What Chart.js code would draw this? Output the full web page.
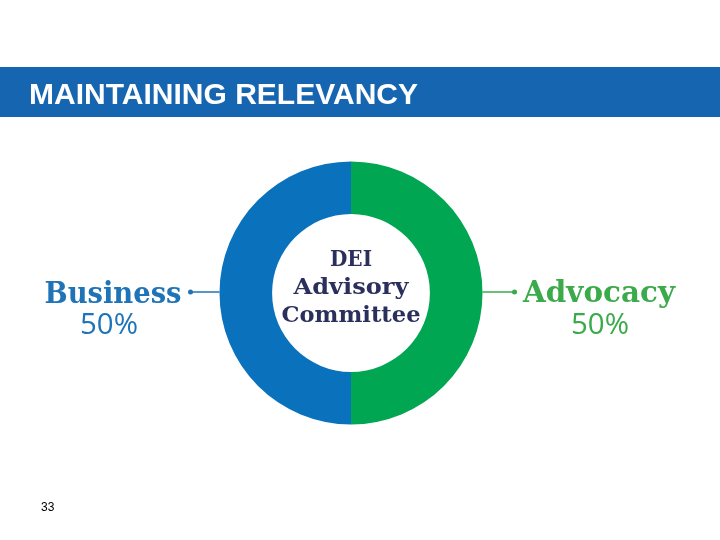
<!DOCTYPE html>
<html>
<head>
<meta charset="utf-8">
<script src="https://cdn.jsdelivr.net/npm/chart.js@4/dist/chart.umd.min.js"></script>
<style>
html,body{margin:0;padding:0;background:#fff;}
#wrap{position:relative;width:720px;height:540px;}
</style>
</head>
<body>
<div id="wrap"><canvas id="c" width="720" height="540"></canvas></div>
<script>
const title = 'MAINTAINING RELEVANCY';
const categories = ['Advocacy', 'Business'];
const values = [50, 50];
const centerLines = ['DEI', 'Advisory', 'Committee'];
const pageNumber = '33';

const sliceColors = ['#00a651', '#0a72bd'];
const labelColors = ['#3aaa4a', '#1f73b7'];

function fitText(ctx, text, cx, baseline, width) {
  const w = ctx.measureText(text).width;
  const s = width / w;
  ctx.save();
  ctx.translate(cx, baseline);
  ctx.scale(s, 1);
  ctx.textAlign = 'center';
  ctx.textBaseline = 'alphabetic';
  ctx.fillText(text, 0, 0);
  ctx.restore();
}

const overlay = {
  id: 'overlay',
  beforeDraw(chart) {
    const ctx = chart.ctx;
    ctx.save();
    ctx.fillStyle = '#1565b1';
    ctx.fillRect(0, 67, 720, 50);
    ctx.fillStyle = '#ffffff';
    ctx.font = 'bold 30px "Liberation Sans", Arial, sans-serif';
    fitText(ctx, title, (29 + 418) / 2, 104, 389);
    ctx.fillStyle = '#000';
    ctx.font = '12px "Liberation Sans", Arial, sans-serif';
    ctx.textAlign = 'left';
    ctx.fillText(pageNumber, 41, 511);
    ctx.restore();
  },
  afterDraw(chart) {
    const ctx = chart.ctx;
    const meta = chart.getDatasetMeta(0);
    const arc = meta.data[0];
    const cx = arc.x, cy = arc.y, R = arc.outerRadius;
    ctx.save();
    // center text
    ctx.fillStyle = '#2b2f5c';
    ctx.font = 'bold 23px "DejaVu Serif", serif';
    const bl = [cy - 27, cy + 1, cy + 29];
    const widths = [42, 115, 139];
    centerLines.forEach((t, i) => fitText(ctx, t, cx, bl[i], widths[i]));

    // side labels
    const lineY = cy - 1;
    categories.forEach((name, i) => {
      const right = i === 0;
      const col = labelColors[i];
      const edge = right ? cx + R : cx - R;
      const dotX = right ? edge + 32 : edge - 29;
      ctx.strokeStyle = col;
      ctx.lineWidth = 1.5;
      ctx.beginPath();
      ctx.moveTo(edge, lineY);
      ctx.lineTo(dotX, lineY);
      ctx.stroke();
      ctx.fillStyle = col;
      ctx.beginPath();
      ctx.arc(dotX, lineY, 2.5, 0, Math.PI * 2);
      ctx.fill();
      ctx.font = 'bold 29px "DejaVu Serif", serif';
      if (right) fitText(ctx, name, 599, 302, 152);
      else fitText(ctx, name, 113, 303, 137);
      ctx.font = '29px "Open Sans", "DejaVu Sans", sans-serif';
      fitText(ctx, values[i] + '%', right ? 600 : 109, 334, 58);
    });
    ctx.restore();
  }
};

new Chart(document.getElementById('c'), {
  type: 'doughnut',
  data: {
    labels: categories,
    datasets: [{
      data: values,
      backgroundColor: sliceColors,
      borderWidth: 0
    }]
  },
  options: {
    responsive: false,
    animation: false,
    cutout: '60%',
    layout: { padding: { left: 219.5, right: 237.5, top: 161.5, bottom: 115.5 } },
    plugins: { legend: { display: false }, tooltip: { enabled: false } }
  },
  plugins: [overlay]
});
</script>
</body>
</html>
